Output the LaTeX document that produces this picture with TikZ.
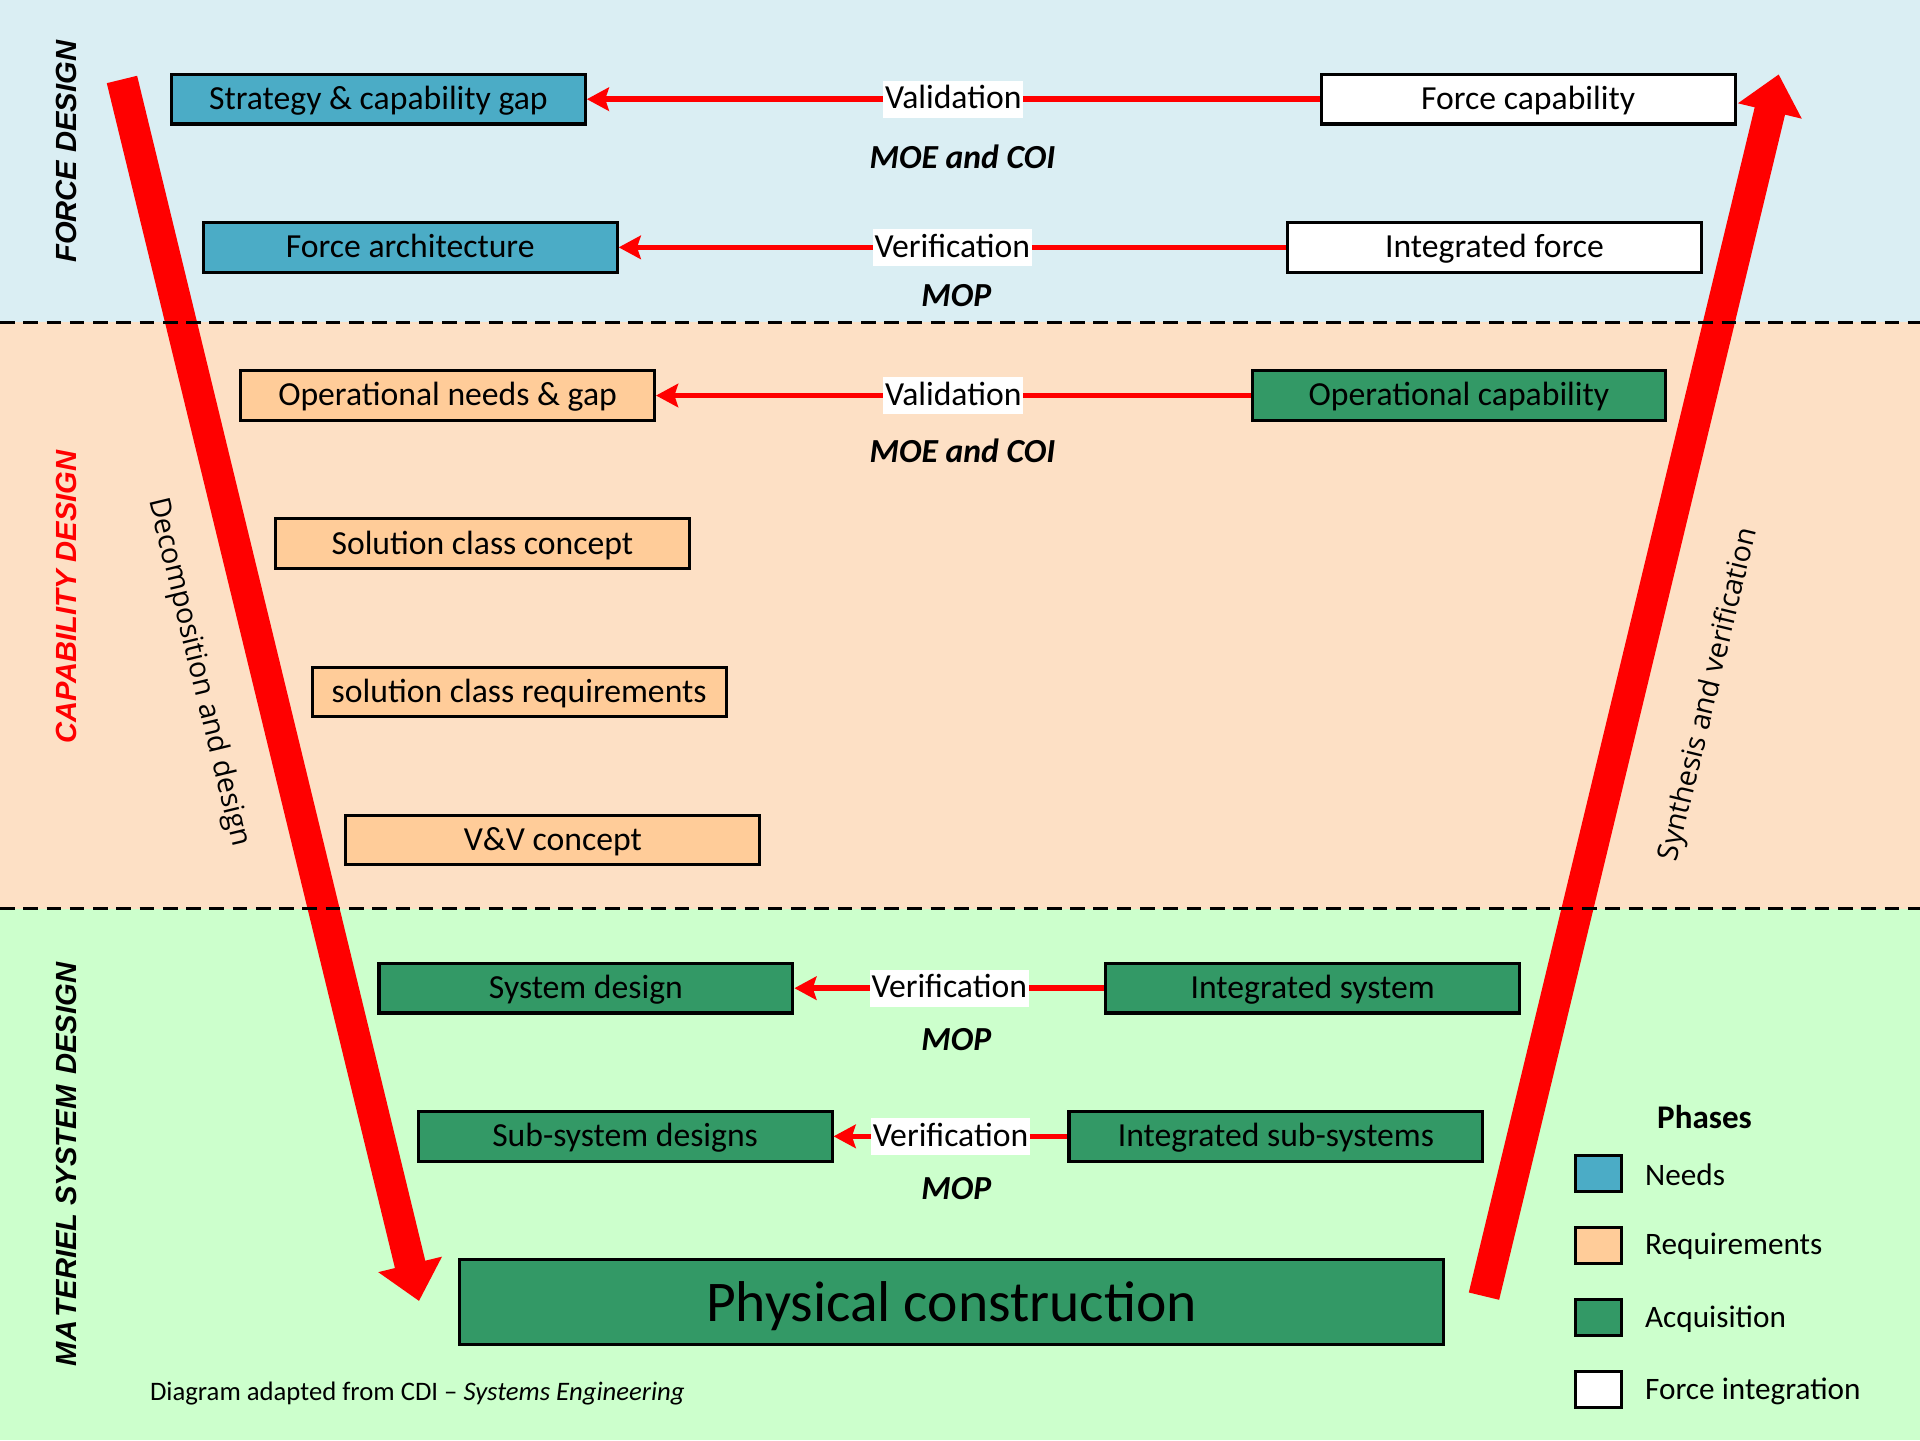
\documentclass[tikz,border=0pt]{standalone}
\usepackage{fontspec}
\setmainfont{Carlito}
\newfontfamily\headfont{Liberation Sans}
\newfontfamily\flowfont{Open Sans}
\usetikzlibrary{arrows.meta}

\definecolor{bgblue}{HTML}{DAEEF3}
\definecolor{bgpeach}{HTML}{FDE0C5}
\definecolor{bggreen}{HTML}{CCFFCC}
\definecolor{needs}{HTML}{4BACC6}
\definecolor{reqs}{HTML}{FFCC99}
\definecolor{acq}{HTML}{339966}
\definecolor{vred}{HTML}{FF0000}

\newcommand{\setfs}[1]{\fontsize{#1}{#1}\selectfont}

\tikzset{
  phase/.style={draw=black, line width=2.5pt, minimum width=338pt,
    minimum height=40.5pt, inner sep=0pt, font=\setfs{27.5},
    text height=22.5pt, text depth=5.5pt},
  needbox/.style={phase, fill=needs},
  reqbox/.style={phase, fill=reqs},
  acqbox/.style={phase, fill=acq},
  intbox/.style={phase, fill=white},
  link/.style={draw=vred, line width=4.5pt,
    -{Stealth[length=18pt,width=19pt,inset=3pt]}},
  linklabel/.style={fill=white, inner sep=1.5pt, text=black, font=\setfs{27.5},
    text height=21.5pt, text depth=5.5pt},
  measure/.style={font=\setfs{27.5}\bfseries\itshape},
  flow/.style={draw=vred, line width=25.5pt,
    -{Triangle[length=30.8pt,width=51.6pt]}},
  flowlabel/.style={font=\flowfont\setfs{23.5}},
  stage/.style={font=\headfont\setfs{23.8}\bfseries\itshape, rotate=90},
  keybox/.style={draw=black, line width=2.5pt, minimum width=38pt,
    minimum height=29.5pt, inner sep=0pt},
  keytext/.style={anchor=west, font=\setfs{25.5}},
  band/.style={black, line width=2.5pt, dash pattern=on 12pt off 7pt}
}

\begin{document}
\begin{tikzpicture}[x=1pt, y=-1pt]
\useasboundingbox (0,0) rectangle (1568,1176);

% background bands for the three design levels
\fill[bgblue] (0,0) rectangle (1568,263);
\fill[bgpeach] (0,263) rectangle (1568,742);
\fill[bggreen] (0,742) rectangle (1568,1176);

% level titles
\node[stage] (lvl1) at (54,124) {FORCE DESIGN};
\node[stage, text=vred] (lvl2) at (54,487.5) {CAPABILITY DESIGN};
\node[stage] (lvl3) at (54,951) {MA\kern3pt TERIEL SYSTEM\hspace{9pt}DESIGN};

% the two sides of the V
\coordinate (dtop) at (99.6,64.9);
\coordinate (dtip) at (342.2,1062.5);
\coordinate (ubot) at (1211.9,1058.5);
\coordinate (utip) at (1452.6,60.7);
\draw[flow] (dtop) -- (dtip);
\draw[flow] (ubot) -- (utip);
\node[flowlabel, rotate=-76.4] (down) at (162,549) {Decomposition and design};
\node[flowlabel, rotate=76.4] (up) at (1396,567) {Synthesis and verification};

% level separators
\draw[band] (0,263) -- (1568,263);
\draw[band] (0,742) -- (1568,742);

% left branch
\node[needbox] (strat) at (309,81) {Strategy \& capability gap};
\node[needbox] (farch) at (335,202) {Force architecture};
\node[reqbox] (opneed) at (365.5,323) {Operational needs \& gap};
\node[reqbox] (scc) at (394,444) {Solution class concept};
\node[reqbox] (scr) at (424,565) {solution class requirements};
\node[reqbox] (vv) at (451.5,686) {V\&V concept};
\node[acqbox] (sysd) at (478.5,807) {System design};
\node[acqbox] (subd) at (510.5,928) {Sub-system designs};
\node[acqbox, minimum width=803pt, minimum height=69.5pt, font=\setfs{47},
  text height=41pt, text depth=9pt] (phys) at (777,1063) {Physical construction};

% right branch
\node[intbox] (fcap) at (1248,81) {Force capability};
\node[intbox] (iforce) at (1220.5,202) {Integrated force};
\node[acqbox] (opcap) at (1191.5,323) {Operational capability};
\node[acqbox] (isys) at (1072,807) {Integrated system};
\node[acqbox] (isub) at (1042,928) {Integrated sub-systems};

% checks across the V
\draw[link] (fcap.west) -- node[linklabel] (chk1) {Validation} (strat.east);
\draw[link] (iforce.west) -- node[linklabel] (chk2) {Verification} (farch.east);
\draw[link] (opcap.west) -- node[linklabel] (chk3) {Validation} (opneed.east);
\draw[link] (isys.west) -- node[linklabel] (chk4) {Verification} (sysd.east);
\draw[link] (isub.west) -- node[linklabel] (chk5) {Verification} (subd.east);

\node[measure] (m1) at (786,128) {MOE and COI};
\node[measure] (m2) at (781,241) {MOP};
\node[measure] (m3) at (786,368) {MOE and COI};
\node[measure] (m4) at (781,849) {MOP};
\node[measure] (m5) at (781,971) {MOP};

% legend
\node[font=\setfs{27}\bfseries] (keyhead) at (1392,912) {Phases};
\node[keybox, fill=needs] (k1) at (1305.3,958.2) {};
\node[keybox, fill=reqs] (k2) at (1305.3,1017.1) {};
\node[keybox, fill=acq] (k3) at (1305.3,1076) {};
\node[keybox, fill=white] (k4) at (1305.3,1134.9) {};
\node[keytext] (t1) at (1340,959) {Needs};
\node[keytext] (t2) at (1340,1018) {Requirements};
\node[keytext] (t3) at (1340,1077) {Acquisition};
\node[keytext] (t4) at (1340,1136) {Force integration};

% source note
\node[anchor=west, font=\setfs{21.8}] (src) at (119,1138)
  {Diagram adapted from CDI \textendash{} \textit{Systems Engineering}};
\end{tikzpicture}
\end{document}
